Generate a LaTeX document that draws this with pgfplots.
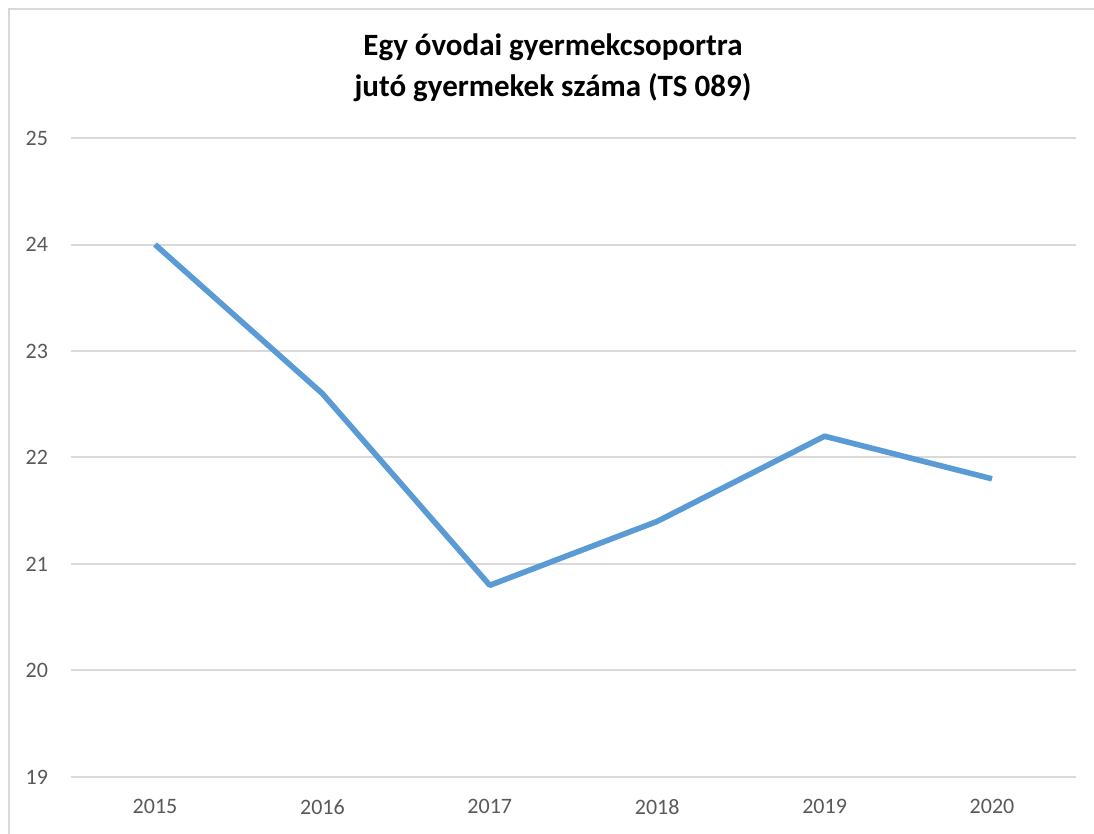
\documentclass[border=0pt]{standalone}
\usepackage{pgfplots}
\pgfplotsset{compat=1.18}
\usepackage{fontspec}
\setmainfont{Carlito}
\definecolor{linie}{HTML}{5B9BD5}
\definecolor{racs}{HTML}{D9D9D9}
\definecolor{felirat}{HTML}{595959}
\begin{document}
\begin{tikzpicture}
% bounding box = screenshot (1 px = 0.5 pt), origin at the plot's lower left
\useasboundingbox (-35.65pt,-28.5pt) rectangle (511.35pt,388.5pt);
\draw[racs, line width=1.3pt] (-31.15pt,-28.5pt) -- (-31.15pt,384pt) -- (511.35pt,384pt);
\begin{axis}[
    at={(0,0)}, anchor=south west,
    scale only axis,
    width=502.2pt, height=319.5pt,
    xmin=-0.5, xmax=5.5,
    ymin=19, ymax=25,
    ytick={19,20,...,25},
    xtick=data,
    xticklabels={2015,2016,2017,2018,2019,2020},
    axis line style={draw=none},
    major tick length=0pt,
    ymajorgrids=true,
    grid style={racs, line width=1pt},
    /pgf/number format/assume math mode=true,
    tick label style={font=\fontsize{11}{13}\selectfont, text=felirat, inner sep=0pt},
    yticklabel style={anchor=east, xshift=-11.5pt},
    xticklabel style={anchor=north, yshift=-11pt},
    clip=false,
]
\addplot[linie, line width=2.8pt, line join=round] coordinates {
    (0,24.0) (1,22.6) (2,20.8) (3,21.4) (4,22.2) (5,21.8)
};
\end{axis}
\node[align=center, font=\fontsize{15.5}{20.5}\selectfont\bfseries] at (240.85pt,354.75pt)
    {Egy óvodai gyermekcsoportra\\jutó gyermekek száma (TS 089)};
\end{tikzpicture}
\end{document}
